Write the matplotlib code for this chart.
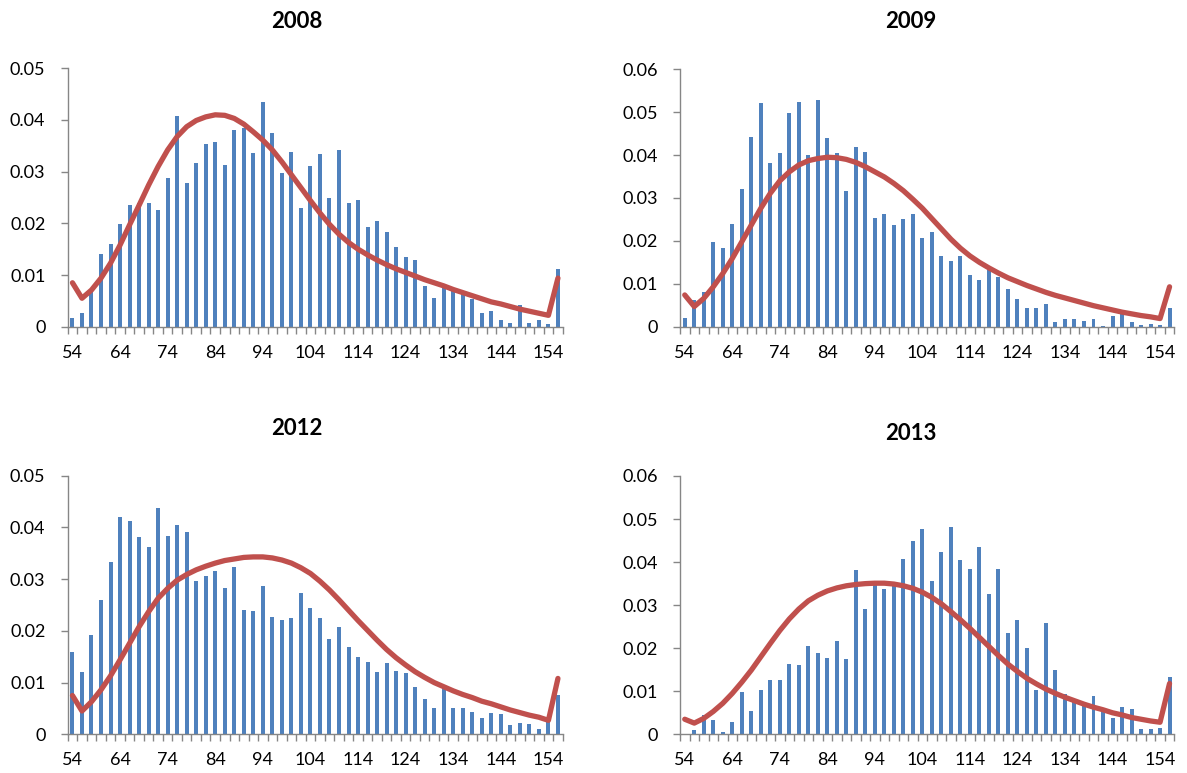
import matplotlib
matplotlib.use('Agg')
import matplotlib.pyplot as plt

# categories (bins) and the tick labels shown under every 5th bin
categories = [54, 56, 58, 60, 62, 64, 66, 68, 70, 72, 74, 76, 78, 80, 82, 84, 86, 88, 90, 92,
              94, 96, 98, 100, 102, 104, 106, 108, 110, 112, 114, 116, 118, 120, 122, 124,
              126, 128, 130, 132, 134, 136, 138, 140, 142, 144, 146, 148, 150, 152, 154, 156]
x_labels = ['54', '64', '74', '84', '94', '104', '114', '124', '134', '144', '154']

bars_2008 = [0.0017, 0.0026, 0.0072, 0.0141, 0.0160, 0.0199, 0.0235, 0.0239, 0.0239, 0.0225,
             0.0288, 0.0408, 0.0278, 0.0316, 0.0353, 0.0358, 0.0312, 0.0380, 0.0384, 0.0336,
             0.0434, 0.0375, 0.0297, 0.0338, 0.0229, 0.0310, 0.0334, 0.0250, 0.0341, 0.0239,
             0.0245, 0.0192, 0.0205, 0.0183, 0.0155, 0.0135, 0.0129, 0.0079, 0.0056, 0.0074,
             0.0072, 0.0065, 0.0053, 0.0027, 0.0031, 0.0013, 0.0007, 0.0042, 0.0008, 0.0012,
             0.0006, 0.0111]
line_2008 = [0.0085, 0.0055, 0.0071, 0.0094, 0.0123, 0.0158, 0.0197, 0.0235, 0.0274, 0.0310,
             0.0342, 0.0368, 0.0387, 0.0399, 0.0406, 0.0410, 0.0409, 0.0403, 0.0392, 0.0377,
             0.0361, 0.0342, 0.0319, 0.0294, 0.0269, 0.0244, 0.0220, 0.0198, 0.0179, 0.0163,
             0.0150, 0.0139, 0.0129, 0.0120, 0.0112, 0.0105, 0.0098, 0.0091, 0.0085, 0.0079,
             0.0072, 0.0066, 0.0060, 0.0054, 0.0048, 0.0044, 0.0039, 0.0034, 0.0030, 0.0026,
             0.0022, 0.0094]

bars_2009 = [0.0021, 0.0062, 0.0082, 0.0198, 0.0184, 0.0239, 0.0321, 0.0442, 0.0522, 0.0382,
             0.0404, 0.0497, 0.0523, 0.0401, 0.0529, 0.0441, 0.0404, 0.0317, 0.0418, 0.0407,
             0.0254, 0.0263, 0.0237, 0.0252, 0.0263, 0.0207, 0.0221, 0.0165, 0.0152, 0.0165,
             0.0120, 0.0108, 0.0132, 0.0116, 0.0089, 0.0065, 0.0043, 0.0043, 0.0054, 0.0010,
             0.0017, 0.0018, 0.0013, 0.0018, 0.0001, 0.0026, 0.0035, 0.0010, 0.0005, 0.0006,
             0.0003, 0.0043]
line_2009 = [0.0074, 0.0047, 0.0066, 0.0093, 0.0124, 0.0159, 0.0198, 0.0237, 0.0276, 0.0311,
             0.0340, 0.0361, 0.0377, 0.0387, 0.0392, 0.0395, 0.0394, 0.0390, 0.0383, 0.0373,
             0.0361, 0.0349, 0.0334, 0.0317, 0.0297, 0.0276, 0.0252, 0.0228, 0.0204, 0.0183,
             0.0165, 0.0150, 0.0137, 0.0125, 0.0114, 0.0105, 0.0096, 0.0088, 0.0080, 0.0073,
             0.0067, 0.0061, 0.0055, 0.0049, 0.0044, 0.0039, 0.0034, 0.0030, 0.0026, 0.0023,
             0.0019, 0.0093]

bars_2012 = [0.0159, 0.0121, 0.0192, 0.0260, 0.0334, 0.0421, 0.0412, 0.0381, 0.0362, 0.0438,
             0.0383, 0.0405, 0.0391, 0.0296, 0.0307, 0.0316, 0.0283, 0.0323, 0.0240, 0.0239,
             0.0287, 0.0227, 0.0221, 0.0225, 0.0273, 0.0245, 0.0224, 0.0184, 0.0208, 0.0169,
             0.0149, 0.0140, 0.0120, 0.0138, 0.0122, 0.0119, 0.0091, 0.0068, 0.0050, 0.0089,
             0.0050, 0.0050, 0.0044, 0.0032, 0.0041, 0.0040, 0.0018, 0.0021, 0.0019, 0.0011,
             0.0025, 0.0076]
line_2012 = [0.0075, 0.0045, 0.0063, 0.0086, 0.0113, 0.0144, 0.0176, 0.0208, 0.0237, 0.0263,
             0.0282, 0.0298, 0.0309, 0.0318, 0.0325, 0.0331, 0.0336, 0.0339, 0.0342, 0.0343,
             0.0343, 0.0341, 0.0337, 0.0331, 0.0322, 0.0311, 0.0296, 0.0279, 0.0260, 0.0240,
             0.0220, 0.0201, 0.0182, 0.0164, 0.0148, 0.0134, 0.0121, 0.0110, 0.0100, 0.0092,
             0.0084, 0.0077, 0.0071, 0.0064, 0.0059, 0.0053, 0.0047, 0.0042, 0.0037, 0.0033,
             0.0027, 0.0108]

bars_2013 = [0.0000, 0.0010, 0.0045, 0.0033, 0.0005, 0.0029, 0.0098, 0.0053, 0.0102, 0.0126,
             0.0126, 0.0163, 0.0160, 0.0205, 0.0188, 0.0177, 0.0216, 0.0174, 0.0381, 0.0291,
             0.0353, 0.0337, 0.0347, 0.0408, 0.0450, 0.0476, 0.0357, 0.0423, 0.0481, 0.0404,
             0.0385, 0.0436, 0.0326, 0.0384, 0.0236, 0.0265, 0.0201, 0.0104, 0.0259, 0.0149,
             0.0093, 0.0075, 0.0066, 0.0089, 0.0053, 0.0039, 0.0063, 0.0059, 0.0012, 0.0012,
             0.0014, 0.0133]
line_2013 = [0.0035, 0.0026, 0.0037, 0.0053, 0.0072, 0.0095, 0.0121, 0.0149, 0.0180, 0.0211,
             0.0241, 0.0268, 0.0291, 0.0310, 0.0323, 0.0333, 0.0340, 0.0345, 0.0348, 0.0350,
             0.0351, 0.0351, 0.0349, 0.0345, 0.0339, 0.0330, 0.0318, 0.0303, 0.0285, 0.0266,
             0.0246, 0.0225, 0.0204, 0.0183, 0.0163, 0.0146, 0.0130, 0.0117, 0.0105, 0.0095,
             0.0086, 0.0078, 0.0070, 0.0063, 0.0057, 0.0050, 0.0045, 0.0039, 0.0035, 0.0031,
             0.0028, 0.0118]

y_ticks_05 = [0, 0.01, 0.02, 0.03, 0.04, 0.05]
y_labels_05 = ['0', '0.01', '0.02', '0.03', '0.04', '0.05']
y_ticks_06 = [0, 0.01, 0.02, 0.03, 0.04, 0.05, 0.06]
y_labels_06 = ['0', '0.01', '0.02', '0.03', '0.04', '0.05', '0.06']

plt.rcParams['font.family'] = ['Lato', 'DejaVu Sans']

W, H = 1187, 773
fig = plt.figure(figsize=(W / 100, H / 100), dpi=100)

bar_color = '#4F81BD'
line_color = '#C0504D'
axis_grey = '#868686'


def px_axes(left, top, right, bottom):
    # pixel box -> figure fraction axes
    return fig.add_axes([left / W, 1 - bottom / H, (right - left) / W, (bottom - top) / H])


def draw(ax, bars, line, yticks, ylabels):
    idx = list(range(len(categories)))
    ax.bar(idx, bars, width=0.42, color=bar_color, zorder=2)
    ax.plot(idx, line, color=line_color, lw=3.8, solid_capstyle='round',
            solid_joinstyle='round', zorder=3, clip_on=False)
    ax.set_xlim(-0.5, len(categories) - 0.5)
    ax.set_ylim(yticks[0], yticks[-1])
    ax.set_yticks(yticks)
    ax.set_yticklabels(ylabels)
    # labels under every 5th category, tick marks between categories
    label_pos = [categories.index(int(s)) for s in x_labels]
    ax.set_xticks(label_pos)
    ax.set_xticklabels(x_labels)
    ax.set_xticks([i - 0.5 for i in range(len(categories) + 1)], minor=True)
    ax.tick_params(axis='x', which='major', length=0, pad=13, labelsize=13)
    ax.tick_params(axis='x', which='minor', length=5, width=1, color=axis_grey)
    ax.tick_params(axis='y', length=5, width=1, color=axis_grey, pad=11, labelsize=13)
    for s in ['top', 'right']:
        ax.spines[s].set_visible(False)
    for s in ['left', 'bottom']:
        ax.spines[s].set_color(axis_grey)
        ax.spines[s].set_linewidth(1.0)


ax1 = px_axes(67.7, 68.3, 562.7, 326.7)
draw(ax1, bars_2008, line_2008, y_ticks_05, y_labels_05)
ax2 = px_axes(680, 69.3, 1174.3, 326.7)
draw(ax2, bars_2009, line_2009, y_ticks_06, y_labels_06)
ax3 = px_axes(67.7, 475.7, 562.7, 734.3)
draw(ax3, bars_2012, line_2012, y_ticks_05, y_labels_05)
ax4 = px_axes(680, 476, 1174.3, 734.3)
draw(ax4, bars_2013, line_2013, y_ticks_06, y_labels_06)

fig.text(297 / W, 1 - 21 / H, '2008', ha='center', va='center', fontsize=16, weight='bold')
fig.text(911 / W, 1 - 21 / H, '2009', ha='center', va='center', fontsize=16, weight='bold')
fig.text(297 / W, 1 - 429 / H, '2012', ha='center', va='center', fontsize=16, weight='bold')
fig.text(911 / W, 1 - 433 / H, '2013', ha='center', va='center', fontsize=16, weight='bold')

fig.savefig('out.png', dpi=100)
